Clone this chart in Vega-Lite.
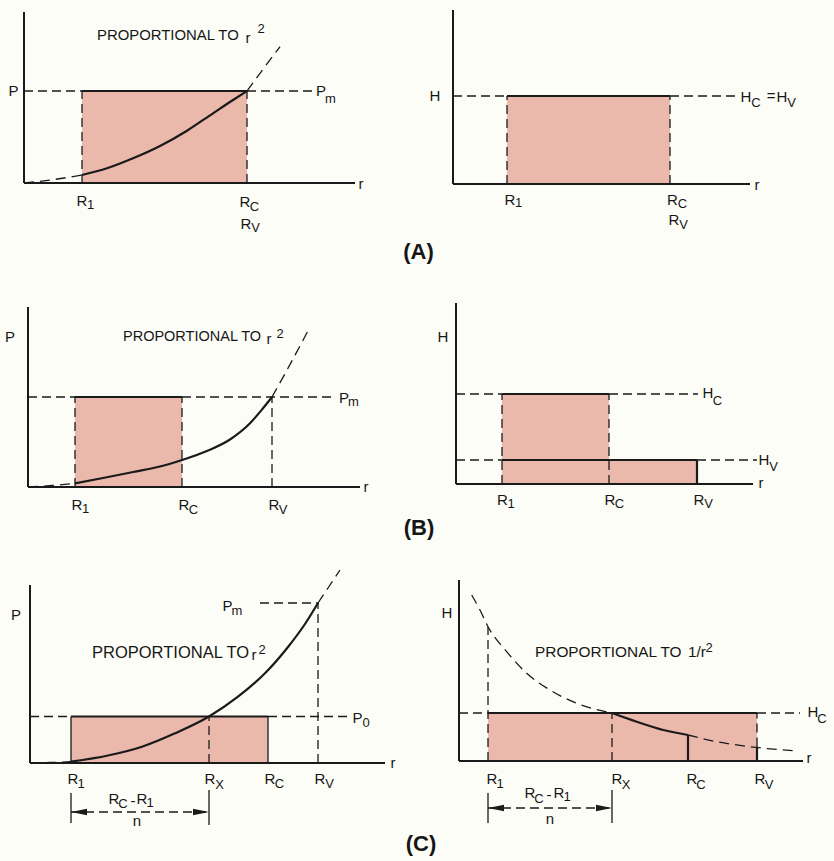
{
"$schema":"https://vega.github.io/schema/vega-lite/v6.json",
"background":"#fdfdf8",
"padding":0,
"columns":2,
"spacing":0,
"bounds":"flush",
"config":{"view":{"stroke":null},"text":{"font":"Liberation Sans","color":"#161616"},"line":{"color":"#1a1a1a"},"rule":{"color":"#1a1a1a"}},
"datasets":{
"A1_rect":[{"r":5.8,"r2":22.3,"v":0,"v2":9.2}],
"A1_seg":[
{"k":"axis","r":0,"r2":0,"v":0,"v2":17.1},
{"k":"axis","r":0,"r2":33.1,"v":0,"v2":0},
{"k":"solid","r":5.8,"r2":22.3,"v":9.2,"v2":9.2},
{"k":"dash","r":0,"r2":5.8,"v":9.2,"v2":9.2},
{"k":"dash","r":22.3,"r2":28.9,"v":9.2,"v2":9.2},
{"k":"dash","r":5.8,"r2":5.8,"v":0,"v2":9.2},
{"k":"dash","r":22.3,"r2":22.3,"v":0,"v2":9.2}],
"A1_curve":[{"s":"pre","r":0,"v":0},{"s":"pre","r":3.0,"v":0.35},{"s":"pre","r":5.8,"v":0.8},{"s":"mid","r":5.8,"v":0.8},{"s":"mid","r":8.3,"v":1.47},{"s":"mid","r":10.9,"v":2.47},{"s":"mid","r":13.6,"v":3.7},{"s":"mid","r":16.3,"v":5.23},{"s":"mid","r":18.9,"v":6.97},{"s":"mid","r":20.9,"v":8.3},{"s":"mid","r":22.3,"v":9.2},{"s":"post","r":22.3,"v":9.2},{"s":"post","r":23.6,"v":10.97},{"s":"post","r":25.6,"v":13.63}],
"A1_txt":[{"k":"main","t":"P","r":-1.05,"v":9.2},{"k":"main","t":"P","r":29.7,"v":9.2},{"k":"main","t":"R","r":5.8,"v":-1.8},{"k":"main","t":"R","r":22.1,"v":-1.9},{"k":"main","t":"R","r":22.2,"v":-4.1},{"k":"main","t":"r","r":33.7,"v":-0.1},{"k":"main","t":"r","r":22.4,"v":14.5},{"k":"sub","t":"m","r":30.65,"v":8.4},{"k":"sub","t":"1","r":6.65,"v":-2.2},{"k":"sub","t":"C","r":23.05,"v":-2.4},{"k":"sub","t":"V","r":23.15,"v":-4.5},{"k":"sub","t":"2","r":23.7,"v":15.4},{"k":"phrase","t":"PROPORTIONAL TO","r":7.3,"v":14.7}],
"A2_rect":[{"r":5.4,"r2":21.7,"v":0,"v2":8.8}],
"A2_seg":[
{"k":"axis","r":0,"r2":0,"v":0,"v2":17.4},
{"k":"axis","r":0,"r2":29.7,"v":0,"v2":0},
{"k":"solid","r":5.4,"r2":21.7,"v":8.8,"v2":8.8},
{"k":"dash","r":0,"r2":5.4,"v":8.8,"v2":8.8},
{"k":"dash","r":21.7,"r2":28.4,"v":8.8,"v2":8.8},
{"k":"dash","r":5.4,"r2":5.4,"v":0,"v2":8.8},
{"k":"dash","r":21.7,"r2":21.7,"v":0,"v2":8.8}],
"A2_txt":[{"k":"main","t":"H","r":-1.8,"v":8.8},{"k":"main","t":"H","r":29.3,"v":8.7},{"k":"main","t":"=","r":31.8,"v":8.8},{"k":"main","t":"H","r":32.9,"v":8.7},{"k":"main","t":"R","r":5.7,"v":-1.6},{"k":"main","t":"R","r":21.95,"v":-1.6},{"k":"main","t":"R","r":22.1,"v":-3.6},{"k":"main","t":"r","r":30.4,"v":-0.1},{"k":"sub","t":"C","r":30.3,"v":8.1},{"k":"sub","t":"V","r":33.85,"v":8.1},{"k":"sub","t":"1","r":6.55,"v":-1.9},{"k":"sub","t":"C","r":22.95,"v":-2.0},{"k":"sub","t":"V","r":23.05,"v":-4.1},{"k":"title","t":"(A)","r":-3.45,"v":-6.8}],
"B1_rect":[{"r":4.7,"r2":15.4,"v":0,"v2":9.0}],
"B1_seg":[
{"k":"axis","r":0,"r2":0,"v":0,"v2":18.0},
{"k":"axis","r":0,"r2":33.2,"v":0,"v2":0},
{"k":"solid","r":4.7,"r2":15.4,"v":9.0,"v2":9.0},
{"k":"dash","r":0,"r2":4.7,"v":9.0,"v2":9.0},
{"k":"dash","r":15.4,"r2":30.5,"v":9.0,"v2":9.0},
{"k":"dash","r":4.7,"r2":4.7,"v":0,"v2":9.0},
{"k":"dash","r":15.4,"r2":15.4,"v":0,"v2":9.0},
{"k":"dash","r":24.4,"r2":24.4,"v":0,"v2":9.0}],
"B1_curve":[{"s":"pre","r":0,"v":0},{"s":"pre","r":2.4,"v":0.15},{"s":"pre","r":4.7,"v":0.37},{"s":"mid","r":4.7,"v":0.37},{"s":"mid","r":7.5,"v":0.9},{"s":"mid","r":10.5,"v":1.5},{"s":"mid","r":13.2,"v":2.05},{"s":"mid","r":15.4,"v":2.7},{"s":"mid","r":17.9,"v":3.6},{"s":"mid","r":20.2,"v":4.75},{"s":"mid","r":22.2,"v":6.37},{"s":"mid","r":23.5,"v":7.87},{"s":"mid","r":24.4,"v":9.0},{"s":"post","r":24.4,"v":9.0},{"s":"post","r":25.9,"v":11.7},{"s":"post","r":28.2,"v":16.0}],
"B1_txt":[{"k":"main","t":"P","r":-1.8,"v":15.0},{"k":"main","t":"P","r":31.6,"v":8.9},{"k":"main","t":"R","r":4.9,"v":-1.8},{"k":"main","t":"R","r":15.6,"v":-1.8},{"k":"main","t":"R","r":24.6,"v":-1.8},{"k":"main","t":"r","r":33.8,"v":0},{"k":"main","t":"r","r":24.1,"v":14.8},{"k":"sub","t":"m","r":32.55,"v":8.5},{"k":"sub","t":"1","r":5.75,"v":-2.2},{"k":"sub","t":"C","r":16.55,"v":-2.3},{"k":"sub","t":"V","r":25.5,"v":-2.3},{"k":"sub","t":"2","r":25.2,"v":15.3},{"k":"phrase","t":"PROPORTIONAL TO","r":9.5,"v":15.0}],
"B2_rect":[{"r":4.6,"r2":15.3,"v":0,"v2":9.0},{"r":15.3,"r2":24.1,"v":0,"v2":2.4}],
"B2_seg":[
{"k":"axis","r":0,"r2":0,"v":0,"v2":18.1},
{"k":"axis","r":0,"r2":29.7,"v":0,"v2":0},
{"k":"solid","r":4.6,"r2":15.3,"v":9.0,"v2":9.0},
{"k":"solid","r":4.6,"r2":24.1,"v":2.4,"v2":2.4},
{"k":"solid","r":24.1,"r2":24.1,"v":0,"v2":2.4},
{"k":"dash","r":0,"r2":4.6,"v":9.0,"v2":9.0},
{"k":"dash","r":15.3,"r2":24.2,"v":9.0,"v2":9.0},
{"k":"dash","r":0,"r2":4.6,"v":2.4,"v2":2.4},
{"k":"dash","r":24.1,"r2":30.1,"v":2.4,"v2":2.4},
{"k":"dash","r":4.6,"r2":4.6,"v":0,"v2":9.0},
{"k":"dash","r":15.3,"r2":15.3,"v":0,"v2":9.0}],
"B2_txt":[{"k":"main","t":"H","r":-1.3,"v":14.7},{"k":"main","t":"H","r":25.2,"v":9.1},{"k":"main","t":"H","r":30.8,"v":2.4},{"k":"main","t":"R","r":4.65,"v":-1.6},{"k":"main","t":"R","r":15.4,"v":-1.6},{"k":"main","t":"R","r":24.3,"v":-1.6},{"k":"main","t":"r","r":30.5,"v":0.1},{"k":"sub","t":"C","r":26.15,"v":8.3},{"k":"sub","t":"V","r":31.75,"v":1.7},{"k":"sub","t":"1","r":5.5,"v":-2.0},{"k":"sub","t":"C","r":16.35,"v":-2.0},{"k":"sub","t":"V","r":25.25,"v":-2.0},{"k":"title","t":"(B)","r":-3.7,"v":-4.4}],
"C1_rect":[{"r":4.1,"r2":23.8,"v":0,"v2":4.65}],
"C1_seg":[
{"k":"axis","r":0,"r2":0,"v":0,"v2":17.8},
{"k":"axis","r":0,"r2":35.5,"v":0,"v2":0},
{"k":"solid","r":4.1,"r2":23.8,"v":4.65,"v2":4.65},
{"k":"thin","r":4.1,"r2":4.1,"v":0,"v2":4.65},
{"k":"thin","r":23.8,"r2":23.8,"v":0,"v2":4.65},
{"k":"thin","r":4.1,"r2":4.1,"v":-3.0,"v2":-6.0},
{"k":"thin","r":17.9,"r2":17.9,"v":-2.7,"v2":-6.2},
{"k":"dash","r":0,"r2":4.1,"v":4.65,"v2":4.65},
{"k":"dash","r":23.8,"r2":31.8,"v":4.65,"v2":4.65},
{"k":"dash","r":17.9,"r2":17.9,"v":0,"v2":4.65},
{"k":"dash","r":28.8,"r2":28.8,"v":0,"v2":16.0},
{"k":"dash","r":23.0,"r2":28.8,"v":16.0,"v2":16.0},
{"k":"dash","r":4.1,"r2":17.9,"v":-4.9,"v2":-4.9}],
"C1_curve":[{"s":"pre","r":0,"v":0},{"s":"pre","r":2.0,"v":0.05},{"s":"pre","r":4.1,"v":0.13},{"s":"mid","r":4.1,"v":0.13},{"s":"mid","r":7.8,"v":0.75},{"s":"mid","r":11.2,"v":1.63},{"s":"mid","r":14.5,"v":2.97},{"s":"mid","r":17.9,"v":4.65},{"s":"mid","r":20.8,"v":6.63},{"s":"mid","r":23.5,"v":8.97},{"s":"mid","r":25.8,"v":11.6},{"s":"mid","r":27.5,"v":13.9},{"s":"mid","r":28.8,"v":16.0},{"s":"post","r":28.8,"v":16.0},{"s":"post","r":29.8,"v":17.5},{"s":"post","r":31.0,"v":19.3}],
"C1_arrow":[{"r":4.1,"v":-4.9,"dir":"left"},{"r":17.9,"v":-4.9,"dir":"right"}],
"C1_txt":[{"k":"main","t":"P","r":-1.4,"v":14.8},{"k":"main","t":"P","r":19.75,"v":15.7},{"k":"main","t":"P","r":32.75,"v":4.5},{"k":"main","t":"R","r":4.3,"v":-1.6},{"k":"main","t":"R","r":18.0,"v":-1.6},{"k":"main","t":"R","r":24.0,"v":-1.6},{"k":"main","t":"R","r":29.0,"v":-1.6},{"k":"main","t":"r","r":36.3,"v":0},{"k":"main","t":"r","r":22.4,"v":10.8},{"k":"main","t":"R","r":8.4,"v":-3.6},{"k":"main","t":"-","r":10.3,"v":-3.8},{"k":"main","t":"R","r":11.2,"v":-3.6},{"k":"main","t":"n","r":10.7,"v":-5.8},{"k":"sub","t":"m","r":20.7,"v":15.2},{"k":"sub","t":"0","r":33.6,"v":4.0},{"k":"sub","t":"1","r":5.1,"v":-2.1},{"k":"sub","t":"X","r":18.95,"v":-2.2},{"k":"sub","t":"C","r":24.95,"v":-2.1},{"k":"sub","t":"V","r":29.95,"v":-2.1},{"k":"sub","t":"C","r":9.3,"v":-4.1},{"k":"sub","t":"1","r":12.0,"v":-4.0},{"k":"sub","t":"2","r":23.2,"v":11.3},{"k":"phrase","t":"PROPORTIONAL TO","r":6.2,"v":11.0}],
"C2_rect":[{"r":2.9,"r2":29.8,"v":0,"v2":4.8}],
"C2_seg":[
{"k":"axis","r":0,"r2":0,"v":0,"v2":18.1},
{"k":"axis","r":0,"r2":34.4,"v":0,"v2":0},
{"k":"solid","r":2.9,"r2":29.8,"v":4.8,"v2":4.8},
{"k":"solid","r":22.9,"r2":22.9,"v":0,"v2":2.6},
{"k":"solid","r":29.8,"r2":29.8,"v":0,"v2":1.45},
{"k":"thin","r":2.9,"r2":2.9,"v":-3.2,"v2":-6.2},
{"k":"thin","r":15.3,"r2":15.3,"v":-2.9,"v2":-6.2},
{"k":"dash","r":0,"r2":2.9,"v":4.8,"v2":4.8},
{"k":"dash","r":29.8,"r2":34.1,"v":4.8,"v2":4.8},
{"k":"dash","r":2.9,"r2":2.9,"v":0,"v2":13.4},
{"k":"dash","r":15.3,"r2":15.3,"v":0,"v2":4.8},
{"k":"dash","r":29.8,"r2":29.8,"v":1.45,"v2":4.8},
{"k":"dash","r":2.9,"r2":15.3,"v":-4.7,"v2":-4.7}],
"C2_curve":[{"s":"pre","r":1.27,"v":16.6},{"s":"pre","r":2.1,"v":15.1},{"s":"pre","r":2.9,"v":13.43},{"s":"pre","r":4.77,"v":10.93},{"s":"pre","r":6.77,"v":8.77},{"s":"pre","r":9.1,"v":7.1},{"s":"pre","r":11.77,"v":5.77},{"s":"pre","r":15.3,"v":4.8},{"s":"mid","r":15.3,"v":4.8},{"s":"mid","r":17.77,"v":3.93},{"s":"mid","r":20.43,"v":3.1},{"s":"mid","r":22.9,"v":2.6},{"s":"post","r":22.9,"v":2.6},{"s":"post","r":25.77,"v":1.93},{"s":"post","r":29.1,"v":1.43},{"s":"post","r":33.4,"v":1.03}],
"C2_arrow":[{"r":2.9,"v":-4.7,"dir":"left"},{"r":15.3,"v":-4.7,"dir":"right"}],
"C2_txt":[{"k":"main","t":"H","r":-1.2,"v":14.8},{"k":"main","t":"H","r":35.4,"v":4.9},{"k":"main","t":"R","r":3.3,"v":-1.8},{"k":"main","t":"R","r":15.8,"v":-1.8},{"k":"main","t":"R","r":23.3,"v":-1.8},{"k":"main","t":"R","r":30.1,"v":-1.8},{"k":"main","t":"r","r":35.0,"v":0.3},{"k":"main","t":"R","r":7.1,"v":-3.2},{"k":"main","t":"-","r":9.0,"v":-3.4},{"k":"main","t":"R","r":10.0,"v":-3.2},{"k":"main","t":"n","r":9.1,"v":-5.8},{"k":"sub","t":"C","r":36.3,"v":4.2},{"k":"sub","t":"1","r":4.1,"v":-2.3},{"k":"sub","t":"X","r":16.7,"v":-2.4},{"k":"sub","t":"C","r":24.2,"v":-2.4},{"k":"sub","t":"V","r":31.0,"v":-2.4},{"k":"sub","t":"C","r":8.0,"v":-3.8},{"k":"sub","t":"1","r":10.8,"v":-3.6},{"k":"sub","t":"2","r":25.0,"v":11.3},{"k":"phrase","t":"PROPORTIONAL TO","r":7.6,"v":10.9},{"k":"phrase","t":"1/r","r":22.9,"v":10.9},{"k":"title","t":"(C)","r":-3.8,"v":-8.3}]
},
"concat":[
{"width":417,"height":265,
 "encoding":{"x":{"field":"r","type":"quantitative","scale":{"domain":[-2.4,39.3],"nice":false,"zero":false},"axis":null},"y":{"field":"v","type":"quantitative","scale":{"domain":[-8.2,18.3],"nice":false,"zero":false},"axis":null}},
 "layer":[
  {"data":{"name":"A1_rect"},"mark":{"type":"rect","fill":"#ebb9ac"},"encoding":{"x2":{"field":"r2"},"y2":{"field":"v2"}}},
  {"data":{"name":"A1_seg"},"transform":[{"filter":"datum.k==='dash'"}],"mark":{"type":"rule","strokeDash":[9,5],"strokeWidth":1.3},"encoding":{"x2":{"field":"r2"},"y2":{"field":"v2"}}},
  {"data":{"name":"A1_seg"},"transform":[{"filter":"datum.k==='solid'"}],"mark":{"type":"rule","strokeWidth":2.2},"encoding":{"x2":{"field":"r2"},"y2":{"field":"v2"}}},
  {"data":{"name":"A1_seg"},"transform":[{"filter":"datum.k==='axis'"}],"mark":{"type":"rule","strokeWidth":2},"encoding":{"x2":{"field":"r2"},"y2":{"field":"v2"}}},
  {"data":{"name":"A1_curve"},"transform":[{"filter":"datum.s!=='mid'"}],"mark":{"type":"line","interpolate":"monotone","strokeDash":[10,6],"strokeWidth":1.3},"encoding":{"detail":{"field":"s"}}},
  {"data":{"name":"A1_curve"},"transform":[{"filter":"datum.s==='mid'"}],"mark":{"type":"line","interpolate":"monotone","strokeWidth":2.2},"encoding":{}},
  {"data":{"name":"A1_txt"},"transform":[{"filter":"datum.k==='main'"}],"mark":{"type":"text","fontSize":15},"encoding":{"text":{"field":"t"}}},
  {"data":{"name":"A1_txt"},"transform":[{"filter":"datum.k==='sub'"}],"mark":{"type":"text","fontSize":13},"encoding":{"text":{"field":"t"}}},
  {"data":{"name":"A1_txt"},"transform":[{"filter":"datum.k==='phrase'"}],"mark":{"type":"text","fontSize":14.9,"align":"left"},"encoding":{"text":{"field":"t"}}}
 ]},
{"width":417,"height":265,
 "encoding":{"x":{"field":"r","type":"quantitative","scale":{"domain":[-3.6,38.1],"nice":false,"zero":false},"axis":null},"y":{"field":"v","type":"quantitative","scale":{"domain":[-8.1,18.4],"nice":false,"zero":false},"axis":null}},
 "layer":[
  {"data":{"name":"A2_rect"},"mark":{"type":"rect","fill":"#ebb9ac"},"encoding":{"x2":{"field":"r2"},"y2":{"field":"v2"}}},
  {"data":{"name":"A2_seg"},"transform":[{"filter":"datum.k==='dash'"}],"mark":{"type":"rule","strokeDash":[9,5],"strokeWidth":1.3},"encoding":{"x2":{"field":"r2"},"y2":{"field":"v2"}}},
  {"data":{"name":"A2_seg"},"transform":[{"filter":"datum.k==='solid'"}],"mark":{"type":"rule","strokeWidth":2.2},"encoding":{"x2":{"field":"r2"},"y2":{"field":"v2"}}},
  {"data":{"name":"A2_seg"},"transform":[{"filter":"datum.k==='axis'"}],"mark":{"type":"rule","strokeWidth":2},"encoding":{"x2":{"field":"r2"},"y2":{"field":"v2"}}},
  {"data":{"name":"A2_txt"},"transform":[{"filter":"datum.k==='main'"}],"mark":{"type":"text","fontSize":15},"encoding":{"text":{"field":"t"}}},
  {"data":{"name":"A2_txt"},"transform":[{"filter":"datum.k==='sub'"}],"mark":{"type":"text","fontSize":13},"encoding":{"text":{"field":"t"}}},
  {"data":{"name":"A2_txt"},"transform":[{"filter":"datum.k==='title'"}],"mark":{"type":"text","fontSize":22,"fontWeight":"bold"},"encoding":{"text":{"field":"t"}}}
 ]},
{"width":417,"height":275,
 "encoding":{"x":{"field":"r","type":"quantitative","scale":{"domain":[-2.8,38.9],"nice":false,"zero":false},"axis":null},"y":{"field":"v","type":"quantitative","scale":{"domain":[-5.3,22.2],"nice":false,"zero":false},"axis":null}},
 "layer":[
  {"data":{"name":"B1_rect"},"mark":{"type":"rect","fill":"#ebb9ac"},"encoding":{"x2":{"field":"r2"},"y2":{"field":"v2"}}},
  {"data":{"name":"B1_seg"},"transform":[{"filter":"datum.k==='dash'"}],"mark":{"type":"rule","strokeDash":[9,5],"strokeWidth":1.3},"encoding":{"x2":{"field":"r2"},"y2":{"field":"v2"}}},
  {"data":{"name":"B1_seg"},"transform":[{"filter":"datum.k==='solid'"}],"mark":{"type":"rule","strokeWidth":2.2},"encoding":{"x2":{"field":"r2"},"y2":{"field":"v2"}}},
  {"data":{"name":"B1_seg"},"transform":[{"filter":"datum.k==='axis'"}],"mark":{"type":"rule","strokeWidth":2},"encoding":{"x2":{"field":"r2"},"y2":{"field":"v2"}}},
  {"data":{"name":"B1_curve"},"transform":[{"filter":"datum.s!=='mid'"}],"mark":{"type":"line","interpolate":"monotone","strokeDash":[10,6],"strokeWidth":1.3},"encoding":{"detail":{"field":"s"}}},
  {"data":{"name":"B1_curve"},"transform":[{"filter":"datum.s==='mid'"}],"mark":{"type":"line","interpolate":"monotone","strokeWidth":2.2},"encoding":{}},
  {"data":{"name":"B1_txt"},"transform":[{"filter":"datum.k==='main'"}],"mark":{"type":"text","fontSize":15},"encoding":{"text":{"field":"t"}}},
  {"data":{"name":"B1_txt"},"transform":[{"filter":"datum.k==='sub'"}],"mark":{"type":"text","fontSize":13},"encoding":{"text":{"field":"t"}}},
  {"data":{"name":"B1_txt"},"transform":[{"filter":"datum.k==='phrase'"}],"mark":{"type":"text","fontSize":14.5,"align":"left"},"encoding":{"text":{"field":"t"}}}
 ]},
{"width":417,"height":275,
 "encoding":{"x":{"field":"r","type":"quantitative","scale":{"domain":[-3.9,37.8],"nice":false,"zero":false},"axis":null},"y":{"field":"v","type":"quantitative","scale":{"domain":[-5.6,21.9],"nice":false,"zero":false},"axis":null}},
 "layer":[
  {"data":{"name":"B2_rect"},"mark":{"type":"rect","fill":"#ebb9ac"},"encoding":{"x2":{"field":"r2"},"y2":{"field":"v2"}}},
  {"data":{"name":"B2_seg"},"transform":[{"filter":"datum.k==='dash'"}],"mark":{"type":"rule","strokeDash":[9,5],"strokeWidth":1.3},"encoding":{"x2":{"field":"r2"},"y2":{"field":"v2"}}},
  {"data":{"name":"B2_seg"},"transform":[{"filter":"datum.k==='solid'"}],"mark":{"type":"rule","strokeWidth":2.2},"encoding":{"x2":{"field":"r2"},"y2":{"field":"v2"}}},
  {"data":{"name":"B2_seg"},"transform":[{"filter":"datum.k==='axis'"}],"mark":{"type":"rule","strokeWidth":2},"encoding":{"x2":{"field":"r2"},"y2":{"field":"v2"}}},
  {"data":{"name":"B2_txt"},"transform":[{"filter":"datum.k==='main'"}],"mark":{"type":"text","fontSize":15},"encoding":{"text":{"field":"t"}}},
  {"data":{"name":"B2_txt"},"transform":[{"filter":"datum.k==='sub'"}],"mark":{"type":"text","fontSize":13},"encoding":{"text":{"field":"t"}}},
  {"data":{"name":"B2_txt"},"transform":[{"filter":"datum.k==='title'"}],"mark":{"type":"text","fontSize":22,"fontWeight":"bold"},"encoding":{"text":{"field":"t"}}}
 ]},
{"width":417,"height":321,
 "encoding":{"x":{"field":"r","type":"quantitative","scale":{"domain":[-3.0,38.7],"nice":false,"zero":false},"axis":null},"y":{"field":"v","type":"quantitative","scale":{"domain":[-9.8,22.3],"nice":false,"zero":false},"axis":null}},
 "layer":[
  {"data":{"name":"C1_rect"},"mark":{"type":"rect","fill":"#ebb9ac"},"encoding":{"x2":{"field":"r2"},"y2":{"field":"v2"}}},
  {"data":{"name":"C1_seg"},"transform":[{"filter":"datum.k==='dash'"}],"mark":{"type":"rule","strokeDash":[9,5],"strokeWidth":1.3},"encoding":{"x2":{"field":"r2"},"y2":{"field":"v2"}}},
  {"data":{"name":"C1_seg"},"transform":[{"filter":"datum.k==='thin'"}],"mark":{"type":"rule","strokeWidth":1.3},"encoding":{"x2":{"field":"r2"},"y2":{"field":"v2"}}},
  {"data":{"name":"C1_seg"},"transform":[{"filter":"datum.k==='solid'"}],"mark":{"type":"rule","strokeWidth":2.2},"encoding":{"x2":{"field":"r2"},"y2":{"field":"v2"}}},
  {"data":{"name":"C1_seg"},"transform":[{"filter":"datum.k==='axis'"}],"mark":{"type":"rule","strokeWidth":2},"encoding":{"x2":{"field":"r2"},"y2":{"field":"v2"}}},
  {"data":{"name":"C1_curve"},"transform":[{"filter":"datum.s!=='mid'"}],"mark":{"type":"line","interpolate":"monotone","strokeDash":[10,6],"strokeWidth":1.3},"encoding":{"detail":{"field":"s"}}},
  {"data":{"name":"C1_curve"},"transform":[{"filter":"datum.s==='mid'"}],"mark":{"type":"line","interpolate":"monotone","strokeWidth":2.2},"encoding":{}},
  {"data":{"name":"C1_arrow"},"mark":{"type":"point","filled":true,"size":256,"opacity":1,"color":"#1a1a1a"},"encoding":{"shape":{"field":"dir","type":"nominal","scale":{"domain":["left","right"],"range":["M0,0L2,-0.4L2,0.4Z","M0,0L-2,-0.4L-2,0.4Z"]},"legend":null}}},
  {"data":{"name":"C1_txt"},"transform":[{"filter":"datum.k==='main'"}],"mark":{"type":"text","fontSize":15},"encoding":{"text":{"field":"t"}}},
  {"data":{"name":"C1_txt"},"transform":[{"filter":"datum.k==='sub'"}],"mark":{"type":"text","fontSize":13},"encoding":{"text":{"field":"t"}}},
  {"data":{"name":"C1_txt"},"transform":[{"filter":"datum.k==='phrase'"}],"mark":{"type":"text","fontSize":16.5,"align":"left"},"encoding":{"text":{"field":"t"}}}
 ]},
{"width":417,"height":321,
 "encoding":{"x":{"field":"r","type":"quantitative","scale":{"domain":[-4.2,37.5],"nice":false,"zero":false},"axis":null},"y":{"field":"v","type":"quantitative","scale":{"domain":[-10.0,22.1],"nice":false,"zero":false},"axis":null}},
 "layer":[
  {"data":{"name":"C2_rect"},"mark":{"type":"rect","fill":"#ebb9ac"},"encoding":{"x2":{"field":"r2"},"y2":{"field":"v2"}}},
  {"data":{"name":"C2_seg"},"transform":[{"filter":"datum.k==='dash'"}],"mark":{"type":"rule","strokeDash":[9,5],"strokeWidth":1.3},"encoding":{"x2":{"field":"r2"},"y2":{"field":"v2"}}},
  {"data":{"name":"C2_seg"},"transform":[{"filter":"datum.k==='thin'"}],"mark":{"type":"rule","strokeWidth":1.3},"encoding":{"x2":{"field":"r2"},"y2":{"field":"v2"}}},
  {"data":{"name":"C2_seg"},"transform":[{"filter":"datum.k==='solid'"}],"mark":{"type":"rule","strokeWidth":2.2},"encoding":{"x2":{"field":"r2"},"y2":{"field":"v2"}}},
  {"data":{"name":"C2_seg"},"transform":[{"filter":"datum.k==='axis'"}],"mark":{"type":"rule","strokeWidth":2},"encoding":{"x2":{"field":"r2"},"y2":{"field":"v2"}}},
  {"data":{"name":"C2_curve"},"transform":[{"filter":"datum.s!=='mid'"}],"mark":{"type":"line","interpolate":"monotone","strokeDash":[10,6],"strokeWidth":1.3},"encoding":{"detail":{"field":"s"}}},
  {"data":{"name":"C2_curve"},"transform":[{"filter":"datum.s==='mid'"}],"mark":{"type":"line","interpolate":"monotone","strokeWidth":2.2},"encoding":{}},
  {"data":{"name":"C2_arrow"},"mark":{"type":"point","filled":true,"size":256,"opacity":1,"color":"#1a1a1a"},"encoding":{"shape":{"field":"dir","type":"nominal","scale":{"domain":["left","right"],"range":["M0,0L2,-0.4L2,0.4Z","M0,0L-2,-0.4L-2,0.4Z"]},"legend":null}}},
  {"data":{"name":"C2_txt"},"transform":[{"filter":"datum.k==='main'"}],"mark":{"type":"text","fontSize":15},"encoding":{"text":{"field":"t"}}},
  {"data":{"name":"C2_txt"},"transform":[{"filter":"datum.k==='sub'"}],"mark":{"type":"text","fontSize":13},"encoding":{"text":{"field":"t"}}},
  {"data":{"name":"C2_txt"},"transform":[{"filter":"datum.k==='phrase'"}],"mark":{"type":"text","fontSize":15.4,"align":"left"},"encoding":{"text":{"field":"t"}}},
  {"data":{"name":"C2_txt"},"transform":[{"filter":"datum.k==='title'"}],"mark":{"type":"text","fontSize":22,"fontWeight":"bold"},"encoding":{"text":{"field":"t"}}}
 ]}
]
}
